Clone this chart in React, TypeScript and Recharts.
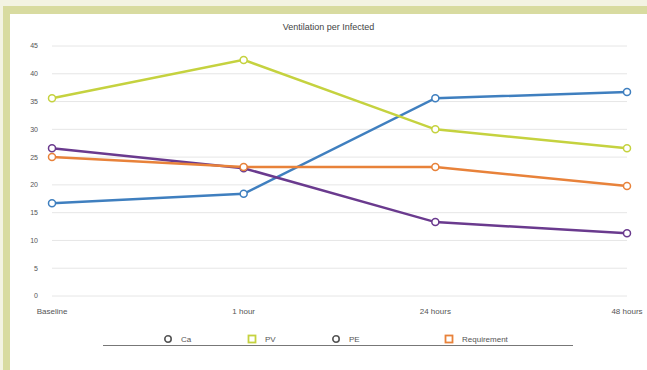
import React from "react"
import {
  LineChart,
  Line,
  XAxis,
  YAxis,
  CartesianGrid,
  Legend,
} from "recharts"

// values
const CATEGORIES = ["Baseline", "1 hour", "24 hours", "48 hours"]
const CA = [16.7, 18.4, 35.6, 36.7]
const PV = [35.6, 42.5, 30.0, 26.6]
const PE = [26.6, 23.0, 13.3, 11.3]
const REQUIREMENT = [25.0, 23.2, 23.2, 19.8]
const Y_TICKS = [0, 5, 10, 15, 20, 25, 30, 35, 40, 45]

const SERIES = [
  { key: "ca", label: "Ca", color: "#3f7fbf", values: CA, icon: "circle" },
  { key: "pv", label: "PV", color: "#c5d23f", values: PV, icon: "square" },
  { key: "pe", label: "PE", color: "#6a3a8e", values: PE, icon: "circle" },
  { key: "req", label: "Requirement", color: "#e8823a", values: REQUIREMENT, icon: "square" },
] as const

const data = CATEGORIES.map((c, i) => {
  const row: Record<string, string | number> = { name: c }
  SERIES.forEach((s) => {
    row[s.key] = s.values[i]
  })
  return row
})

function LegendRow() {
  const xs = [153, 237, 321, 434]
  return (
    <div style={{ position: "relative", width: 637, height: 20 }}>
      {SERIES.map((s, i) => (
        <div
          key={s.key}
          style={{
            position: "absolute",
            left: xs[i],
            top: 0,
            display: "flex",
            alignItems: "center",
            gap: 8,
            fontSize: 8,
            color: "#555",
          }}
        >
          <svg width={10} height={10}>
            {s.icon === "circle" ? (
              <circle cx={5} cy={5} r={3.2} fill="#fff" stroke="#555" strokeWidth={1.6} />
            ) : (
              <rect x={1.5} y={1.5} width={7} height={7} fill="#fff" stroke={s.color} strokeWidth={1.8} />
            )}
          </svg>
          <span style={{ color: "#555" }}>{s.label}</span>
        </div>
      ))}
      <div
        style={{
          position: "absolute",
          left: 93,
          top: 11,
          width: 470,
          height: 1,
          background: "#777",
        }}
      />
    </div>
  )
}

export default function App() {
  return (
    <div
      style={{
        position: "fixed",
        left: 0,
        top: 0,
        width: 647,
        height: 370,
        background: "#f3f3e3",
        fontFamily: "'Liberation Sans', Arial, sans-serif",
        overflow: "hidden",
      }}
    >
      <div
        style={{
          position: "absolute",
          left: 3,
          top: 6,
          width: 644,
          height: 364,
          borderLeft: "7px solid #d8dba0",
          borderTop: "8px solid #d8dba0",
          background: "#fff",
          boxSizing: "border-box",
        }}
      >
        <div
          style={{
            position: "absolute",
            left: 0,
            top: 8,
            width: 637,
            textAlign: "center",
            fontSize: 9,
            color: "#444",
          }}
        >
          Ventilation per Infected
        </div>
        <LineChart
          width={637}
          height={356}
          data={data}
          margin={{ top: 32, right: 20, bottom: 32, left: 0 }}
        >
          <CartesianGrid vertical={false} stroke="#e6e6e6" />
          <XAxis
            dataKey="name"
            axisLine={false}
            tickLine={false}
            interval={0}
            tick={{ fill: "#555", fontSize: 8 }}
            tickMargin={6}
            height={22}
          />
          <YAxis
            domain={[0, 45]}
            ticks={Y_TICKS}
            axisLine={false}
            tickLine={false}
            tick={{ fill: "#555", fontSize: 7, dx: -6 }}
            width={42}
          />
          <Legend
            verticalAlign="bottom"
            content={() => <LegendRow />}
            wrapperStyle={{ left: 0, bottom: 16 }}
          />
          {SERIES.map((s) => (
            <Line
              key={s.key}
              dataKey={s.key}
              name={s.label}
              stroke={s.color}
              strokeWidth={2.5}
              dot={{ r: 3.5, fill: "#fff", stroke: s.color, strokeWidth: 1.5 }}
              isAnimationActive={false}
            />
          ))}
        </LineChart>
      </div>
    </div>
  )
}
